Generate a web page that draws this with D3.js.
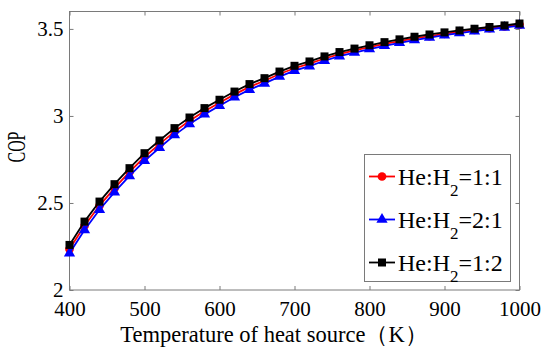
<!DOCTYPE html>
<head>
  <meta charset="utf-8">
  <style>
    body { margin: 0; background: #fff; }
    svg text { font-family: "Liberation Serif", "Times New Roman", serif; }
  </style>
  <script src="https://cdnjs.cloudflare.com/ajax/libs/d3/7.8.5/d3.min.js"></script>
</head>
<body>
  <script>

    const temps = [400, 420, 440, 460, 480, 500, 520, 540, 560, 580, 600, 620, 640, 660, 680, 700,
                   720, 740, 760, 780, 800, 820, 840, 860, 880, 900, 920, 940, 960, 980, 1000];

    // He:H2 = 1:1
    const copRed = [2.235, 2.369, 2.485, 2.585, 2.678, 2.764, 2.838, 2.910, 2.972, 3.027, 3.076,
                    3.124, 3.167, 3.202, 3.241, 3.274, 3.300, 3.330, 3.355, 3.376, 3.395, 3.414,
                    3.430, 3.446, 3.459, 3.472, 3.484, 3.494, 3.505, 3.514, 3.525];
    // He:H2 = 2:1
    const copBlue = [2.211, 2.345, 2.461, 2.562, 2.655, 2.742, 2.817, 2.890, 2.953, 3.009, 3.058,
                     3.107, 3.151, 3.187, 3.226, 3.260, 3.286, 3.317, 3.343, 3.364, 3.384, 3.403,
                     3.420, 3.436, 3.450, 3.464, 3.476, 3.487, 3.498, 3.508, 3.519];
    // He:H2 = 1:2
    const copBlack = [2.259, 2.393, 2.508, 2.608, 2.700, 2.786, 2.859, 2.930, 2.991, 3.045, 3.093,
                      3.140, 3.183, 3.217, 3.255, 3.288, 3.313, 3.342, 3.367, 3.387, 3.406, 3.424,
                      3.440, 3.455, 3.468, 3.480, 3.491, 3.501, 3.511, 3.520, 3.531];

    const xTicks = [400, 500, 600, 700, 800, 900, 1000];
    const yTicks = [2, 2.5, 3, 3.5];
    const ratios = ['1:1', '2:1', '1:2'];

    const w = 550, h = 354;
    const mLeft = 69.5, mRight = 519.5, mTop = 11.5, mBottom = 290;

    const svg = d3.select('body').append('svg')
        .attr('width', w)
        .attr('height', h);

    const x = d3.scaleLinear().domain([400, 1000]).range([mLeft, mRight]);
    const y = d3.scaleLinear().domain([2, 3.6]).range([mBottom, mTop]);

    const axisColor = '#7a7a7a';

    // frame
    svg.append('rect')
      .attr('x', mLeft).attr('y', mTop)
      .attr('width', mRight - mLeft).attr('height', mBottom - mTop)
      .attr('fill', 'none').attr('stroke', axisColor).attr('stroke-width', 1);

    const styleAxis = (g) => {
      g.attr('font-family', null).attr('font-size', null);
      g.select('.domain').remove();
      g.selectAll('.tick line').attr('stroke', axisColor);
      g.selectAll('.tick text')
        .attr('fill', '#000')
        .style('font-family', '"Liberation Serif", serif')
        .style('font-size', '21px');
    };

    svg.append('g')
      .attr('transform', `translate(0,${mBottom})`)
      .call(d3.axisBottom(x).tickValues(xTicks).tickSize(-4).tickPadding(11).tickFormat(d3.format('d')))
      .call(styleAxis);

    svg.append('g')
      .attr('transform', `translate(0,${mTop})`)
      .call(d3.axisTop(x).tickValues(xTicks).tickSize(-4).tickFormat(''))
      .call(styleAxis);

    svg.append('g')
      .attr('transform', `translate(${mLeft},0)`)
      .call(d3.axisLeft(y).tickValues(yTicks).tickSize(-4).tickPadding(6).tickFormat(d3.format('')))
      .call(styleAxis);

    svg.append('g')
      .attr('transform', `translate(${mRight},0)`)
      .call(d3.axisRight(y).tickValues(yTicks).tickSize(-4).tickFormat(''))
      .call(styleAxis);

    // axis titles
    svg.append('text')
      .attr('x', 274).attr('y', 342)
      .attr('text-anchor', 'middle')
      .style('font-size', '22.5px')
      .text('Temperature of heat source（K）');

    svg.append('text')
      .attr('transform', 'translate(25,147) rotate(-90) scale(0.72,1.1)')
      .attr('text-anchor', 'middle')
      .style('font-size', '22px')
      .text('COP');

    const series = [
      { name: ratios[0], values: copRed, color: '#ff0000', shape: d3.symbolCircle, size: 60 },
      { name: ratios[1], values: copBlue, color: '#0000ff', shape: d3.symbolTriangle, size: 55 },
      { name: ratios[2], values: copBlack, color: '#000000', shape: d3.symbolSquare, size: 64 }
    ];

    const line = d3.line()
      .x((d, i) => x(temps[i]))
      .y((d) => y(d));

    series.forEach((s) => {
      svg.append('path')
        .datum(s.values)
        .attr('d', line)
        .attr('fill', 'none')
        .attr('stroke', s.color)
        .attr('stroke-width', 1.8);

      svg.selectAll(null)
        .data(s.values)
        .enter()
        .append('path')
        .attr('d', d3.symbol().type(s.shape).size(s.size))
        .attr('transform', (d, i) => `translate(${x(temps[i])},${y(d)})`)
        .attr('fill', s.color);
    });

    // legend
    const lg = svg.append('g');
    lg.append('rect')
      .attr('x', 364.5).attr('y', 154.5)
      .attr('width', 146).attr('height', 127)
      .attr('fill', '#fff').attr('stroke', axisColor);

    series.forEach((s, i) => {
      const cy = 176.5 + i * 43;
      lg.append('line')
        .attr('x1', 369).attr('x2', 395)
        .attr('y1', cy).attr('y2', cy)
        .attr('stroke', s.color).attr('stroke-width', 1.8);
      lg.append('path')
        .attr('d', d3.symbol().type(s.shape).size(s.size))
        .attr('transform', `translate(382,${cy})`)
        .attr('fill', s.color);
      const t = lg.append('text')
        .attr('x', 398).attr('y', cy + 8)
        .style('font-size', '24px');
      t.append('tspan').text('He:H');
      t.append('tspan').attr('dy', 11).style('font-size', '17px').text('2');
      t.append('tspan').attr('dy', -11).text('=' + s.name);
    });

  </script>
</body>
